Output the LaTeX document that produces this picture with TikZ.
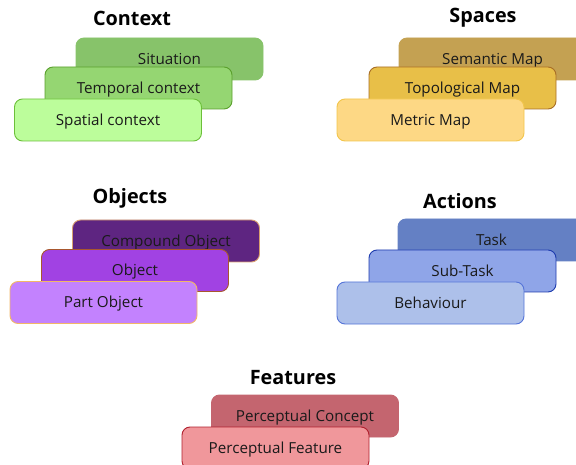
\documentclass[tikz,border=0pt]{standalone}
\usepackage{fontspec}
\setmainfont{Open Sans}
\definecolor{txt}{HTML}{1A1A1A}
\definecolor{sitF}{HTML}{87C36A}\definecolor{sitD}{HTML}{87C36A}
\definecolor{tempF}{HTML}{95D672}\definecolor{tempD}{HTML}{5AA02C}
\definecolor{spatF}{HTML}{BCFD9B}\definecolor{spatD}{HTML}{6CBF3A}
\definecolor{semF}{HTML}{C4A152}\definecolor{semD}{HTML}{C4A152}
\definecolor{topoF}{HTML}{E8BF48}\definecolor{topoD}{HTML}{A86E26}
\definecolor{metF}{HTML}{FDD885}\definecolor{metD}{HTML}{F2C54C}
\definecolor{compF}{HTML}{5E2581}\definecolor{compD}{HTML}{D9A070}
\definecolor{objF}{HTML}{A142E3}\definecolor{objD}{HTML}{A8572E}
\definecolor{partF}{HTML}{C382FE}\definecolor{partD}{HTML}{F2B766}
\definecolor{taskF}{HTML}{6480C4}\definecolor{taskD}{HTML}{6480C4}
\definecolor{subF}{HTML}{8FA5E8}\definecolor{subD}{HTML}{1E3CAE}
\definecolor{behF}{HTML}{ADC0EA}\definecolor{behD}{HTML}{5574D8}
\definecolor{concF}{HTML}{C4656F}\definecolor{concD}{HTML}{C4656F}
\definecolor{featF}{HTML}{F0979B}\definecolor{featD}{HTML}{B0202E}
\tikzset{
  layer/.style args={#1/#2}{draw=#2, fill=#1, line width=0.9pt, rounded corners=8pt,
    minimum width=187pt, minimum height=42pt, inner sep=0pt, anchor=center,
    text height=1.3em, text depth=0.2em,
    text=txt, font=\fontsize{15.2}{17}\selectfont},
  grouptitle/.style={font=\fontsize{19.8}{22}\selectfont\bfseries, text=black, inner sep=0pt}
}
\begin{document}
\begin{tikzpicture}[x=1pt,y=-1pt]
\useasboundingbox (0,0) rectangle (576,465);
\clip (0,0) rectangle (576,465);
% Context
\node[grouptitle] (tctx) at (132,18) {Context};
\node[layer=sitF/sitD] (sit) at (169.5,59) {Situation};
\node[layer=tempF/tempD] (temp) at (138.5,88) {Temporal context};
\node[layer=spatF/spatD] (spat) at (108,120) {Spatial context};
% Spaces
\node[grouptitle] (tspc) at (483,18) {Spaces};
\node[layer=semF/semD] (sem) at (492.5,59) {Semantic Map};
\node[layer=topoF/topoD] (topo) at (462.5,88) {Topological Map};
\node[layer=metF/metD] (met) at (430.5,120) {Metric Map};
% Objects
\node[grouptitle] (tobj) at (130,198) {Objects};
\node[layer=compF/compD] (comp) at (166,241) {Compound Object};
\node[layer=objF/objD] (obj) at (135,270.5) {Object};
\node[layer=partF/partD] (part) at (103.5,302.5) {Part Object};
% Actions
\node[grouptitle] (tact) at (460,201) {Actions};
\node[layer=taskF/taskD] (task) at (491.5,240) {Task};
\node[layer=subF/subD] (sub) at (462.5,271) {Sub-Task};
\node[layer=behF/behD] (beh) at (430.5,303) {Behaviour};
% Features
\node[grouptitle] (tfeat) at (293,378) {Features};
\node[layer=concF/concD] (conc) at (305,416) {Perceptual Concept};
\node[layer=featF/featD] (feat) at (275.5,448) {Perceptual Feature};
\end{tikzpicture}
\end{document}
